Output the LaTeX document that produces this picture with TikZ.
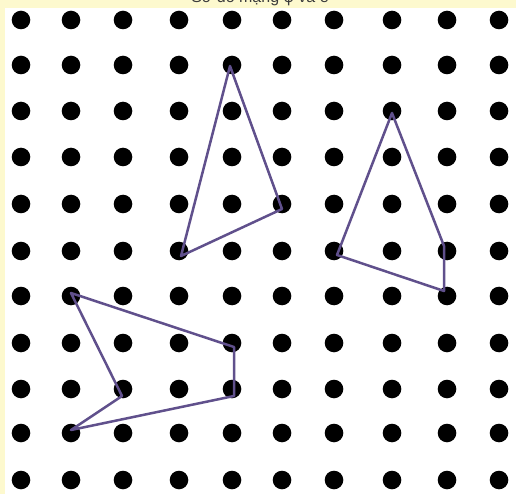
\documentclass[tikz,border=0pt]{standalone}
\usepackage{fontspec}
\setmainfont{Liberation Sans}
\definecolor{bgyellow}{RGB}{253,249,206}
\definecolor{shapeline}{RGB}{96,80,140}
\definecolor{titlegray}{RGB}{60,60,60}
\tikzset{
  gdot/.style={circle,fill=black,inner sep=0pt,minimum size=18.6pt},
  poly/.style={draw=shapeline,line width=2.5pt,line join=round,line cap=round}
}
\begin{document}
\begin{tikzpicture}[x=1pt,y=-1pt]
\useasboundingbox (0,0) rectangle (516,494);
\clip (0,0) rectangle (516,494);
\fill[bgyellow] (0,0) rectangle (516,494);
\fill[white] (5,8) rectangle (516,494);
\node[anchor=base,text=titlegray,font=\fontsize{16}{18}\selectfont,inner sep=0pt] (title) at (260,2.5) {Sơ đồ mạng φ và e};
% grid of dots
\foreach \c/\x in {1/21,2/71,3/123,4/179,5/232,6/282,7/334,8/392,9/447,10/499}{
  \foreach \r/\y in {1/20,2/65,3/111,4/157,5/204,6/251,7/296,8/343,9/389,10/433,11/480}{
    \node[gdot] (d-\c-\r) at (\x,\y) {};
  }
}
% shape 1
\coordinate (a1) at (230,66);
\coordinate (a2) at (282,209);
\coordinate (a3) at (181,256);
\draw[poly] (a1) -- (a2) -- (a3) -- cycle;
% shape 2
\coordinate (b1) at (392,113);
\coordinate (b2) at (444,246);
\coordinate (b3) at (444,291);
\coordinate (b4) at (337,255);
\draw[poly] (b1) -- (b2) -- (b3) -- (b4) -- cycle;
% shape 3
\coordinate (c1) at (71,293);
\coordinate (c2) at (234,347);
\coordinate (c3) at (234,396);
\coordinate (c4) at (71,430);
\coordinate (c5) at (122,396);
\draw[poly] (c1) -- (c2) -- (c3) -- (c4) -- (c5) -- cycle;
\end{tikzpicture}
\end{document}
